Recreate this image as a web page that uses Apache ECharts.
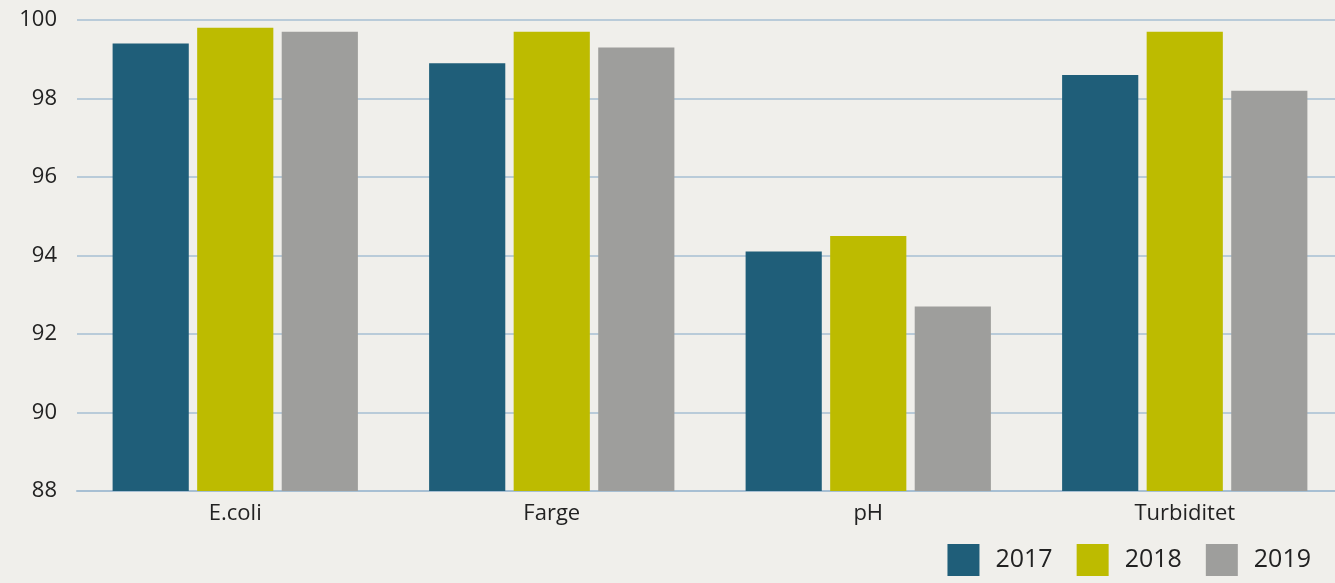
<!DOCTYPE html>
<html>
<head>
<meta charset="utf-8">
<script src="https://cdn.jsdelivr.net/npm/echarts@6/dist/echarts.min.js"></script>
<style>
  html, body { margin: 0; padding: 0; background: #f0efeb; overflow: hidden; }
  /* plot runs a few px past the right edge in the original, so the canvas is a bit wider than the window */
  #chart { width: 1343px; height: 583px; }
</style>
</head>
<body>
<div id="chart"></div>
<script>
var categories = ['E.coli', 'Farge', 'pH', 'Turbiditet'];
var years = ['2017', '2018', '2019'];
var values2017 = [99.4, 98.9, 94.1, 98.6];
var values2018 = [99.8, 99.7, 94.5, 99.7];
var values2019 = [99.7, 99.3, 92.7, 98.2];
var colors = ['#1f5e79', '#bdbb00', '#9e9e9c'];

var font = '"Open Sans", "Noto Sans", sans-serif';
var chart = echarts.init(document.getElementById('chart'));

var seriesData = [values2017, values2018, values2019];
var series = years.map(function (y, i) {
    return {
        name: y,
        type: 'bar',
        data: seriesData[i],
        barGap: '11%',
        barCategoryGap: '22.5%',
        itemStyle: { color: colors[i] }
    };
});

chart.setOption({
    backgroundColor: '#f0efeb',
    animation: false,
    color: colors,
    grid: { left: 77, right: 0, top: 20, bottom: 92, containLabel: false },
    legend: {
        right: 27,
        bottom: 2,
        itemWidth: 32,
        itemHeight: 32,
        itemGap: 24,
        icon: 'rect',
        textStyle: { fontFamily: font, fontSize: 25, color: '#222', padding: [0, 0, 0, 11] },
        data: years
    },
    xAxis: {
        type: 'category',
        data: categories,
        axisLine: { show: true, lineStyle: { color: '#a7bfd3', width: 2 } },
        axisTick: { show: false },
        axisLabel: { fontFamily: font, fontSize: 22, color: '#222', margin: 12 }
    },
    yAxis: {
        type: 'value',
        min: 88,
        max: 100,
        interval: 2,
        axisLine: { show: false },
        axisTick: { show: false },
        splitLine: { lineStyle: { color: '#a7bfd3', width: 1.5 } },
        axisLabel: { fontFamily: font, fontSize: 22, color: '#222', margin: 20 }
    },
    series: series
});
</script>
</body>
</html>
